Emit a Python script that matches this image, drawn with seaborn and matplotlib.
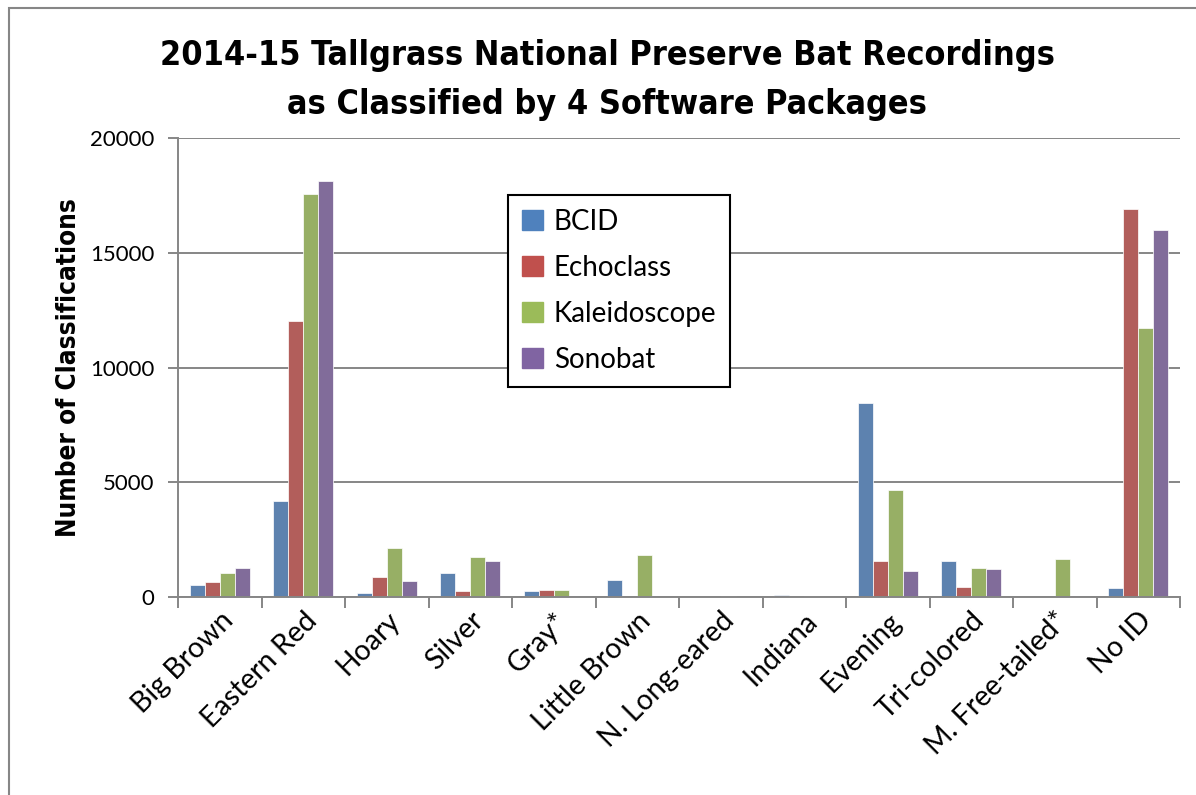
import pandas as pd
import matplotlib.pyplot as plt
import matplotlib.patches as mpatches
import numpy as np
import seaborn as sns

species = ["Big Brown", "Eastern Red", "Hoary", "Silver", "Gray*", "Little Brown",
           "N. Long-eared", "Indiana", "Evening", "Tri-colored", "M. Free-tailed*", "No ID"]
packages = ["BCID", "Echoclass", "Kaleidoscope", "Sonobat"]
bcid = [535, 4170, 190, 1060, 275, 740, 0, 80, 8460, 1550, 0, 390]
echoclass = [635, 12010, 885, 260, 320, 20, 0, 20, 1580, 450, 0, 16890]
kaleidoscope = [1045, 17570, 2130, 1755, 300, 1830, 30, 40, 4650, 1260, 1640, 11740]
sonobat = [1275, 18120, 710, 1570, 0, 0, 0, 0, 1115, 1200, 0, 15980]
colors = ["#4F81BD", "#C0504D", "#9BBB59", "#8064A2"]

df = pd.DataFrame({
    "Species": species * 4,
    "Package": [p for p in packages for _ in species],
    "Count": bcid + echoclass + kaleidoscope + sonobat,
})

sns.set_style("white")
plt.rcParams["font.family"] = ["Lato", "DejaVu Sans"]
plt.rcParams["text.color"] = "black"
plt.rcParams["axes.labelcolor"] = "black"

fig = plt.figure(figsize=(11.96, 7.95), dpi=100)
ax = fig.add_axes([178 / 1196, 1 - 597 / 795, (1180 - 178) / 1196, (597 - 138) / 795])

sns.barplot(data=df, x="Species", y="Count", hue="Package", palette=colors,
            width=0.72, gap=0, edgecolor="white", linewidth=0.5, ax=ax)

ax.set_ylim(0, 20000)
ax.set_xlim(-0.5, 11.5)
ax.set_yticks([0, 5000, 10000, 15000, 20000])
ax.yaxis.grid(True, color="#868686", linewidth=1.4)
ax.set_axisbelow(True)
for s in ["top", "right"]:
    ax.spines[s].set_visible(False)
for s in ["left", "bottom"]:
    ax.spines[s].set_color("#868686")
    ax.spines[s].set_linewidth(1.4)

ax.tick_params(axis="y", which="major", left=True, length=7, color="#868686",
               width=1.4, labelsize=16, pad=10, labelcolor="black")
ax.tick_params(axis="x", which="major", bottom=False, labelsize=20.5, pad=4, labelcolor="black")
ax.set_xticks(np.arange(-0.5, 12, 1), minor=True)
ax.tick_params(axis="x", which="minor", bottom=True, length=8, color="#868686", width=1.4)
ax.set_xticks(range(len(species)))
ax.set_xticklabels(species, rotation=45, ha="right", rotation_mode="anchor")

# condensed bold face for title and axis label
ax.set_xlabel("")
ax.set_ylabel("Number of Classifications", fontsize=18.7, fontweight="bold",
              family="DejaVu Sans", fontstretch="condensed", labelpad=6)

fig.text(607 / 1196, 1 - 80 / 795,
         "2014-15 Tallgrass National Preserve Bat Recordings\nas Classified by 4 Software Packages",
         ha="center", va="center", fontsize=24.5, fontweight="bold", family="DejaVu Sans",
         fontstretch="condensed", linespacing=1.6)

handles = [mpatches.Patch(color=c, label=p) for c, p in zip(colors, packages)]
ax.legend(handles=handles, loc="upper left",
          bbox_to_anchor=(508 / 1196, 1 - 195 / 795), bbox_transform=fig.transFigure,
          borderaxespad=0, fontsize=20, frameon=True, fancybox=False, edgecolor="black",
          handlelength=0.75, handleheight=0.75, handletextpad=0.4,
          labelspacing=0.72, borderpad=0.5, framealpha=1)
ax.get_legend().get_frame().set_linewidth(1.5)

fig.add_artist(mpatches.Rectangle((9 / 1196, -0.1), 1.2, 1 - 8 / 795 + 0.1,
                                  transform=fig.transFigure, fill=False,
                                  edgecolor="#868686", linewidth=1.5))

fig.savefig("out.png", dpi=100)
